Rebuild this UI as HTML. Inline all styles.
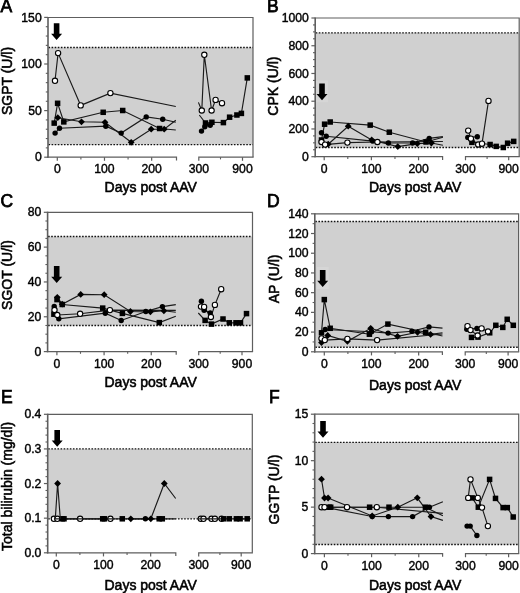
<!DOCTYPE html>
<html><head><meta charset="utf-8"><style>
html,body{margin:0;padding:0;background:#fff;}
svg{display:block;filter:blur(0.35px);}
.t{font-family:"Liberation Sans", sans-serif;font-size:12.2px;fill:#000;stroke:#000;stroke-width:0.4px;}
.ax{font-family:"Liberation Sans", sans-serif;font-size:14px;fill:#000;stroke:#000;stroke-width:0.55px;}
.lt{font-family:"Liberation Sans", sans-serif;font-size:17.5px;fill:#000;stroke:#000;stroke-width:0.75px;}
</style></head><body>
<svg width="520" height="593" viewBox="0 0 520 593">
<rect width="520" height="593" fill="#fff"/>
<rect x="48" y="47.5" width="205" height="97.1" fill="#d0d0d0"/>
<line x1="48.5" y1="47.5" x2="253" y2="47.5" stroke="#111" stroke-width="1.35" stroke-dasharray="1.6 1.49"/>
<line x1="48.5" y1="144.6" x2="253" y2="144.6" stroke="#111" stroke-width="1.35" stroke-dasharray="1.6 1.49"/>
<path d="M48 17.5H253V157.2" fill="none" stroke="#5e5e5e" stroke-width="1.2"/>
<line x1="48" y1="16.9" x2="48" y2="157.8" stroke="#5e5e5e" stroke-width="1.6"/>
<line x1="44.2" y1="157.2" x2="48" y2="157.2" stroke="#5e5e5e" stroke-width="1.2"/>
<text x="41.7" y="161.3" text-anchor="end" class="t">0</text>
<line x1="44.2" y1="110.6" x2="48" y2="110.6" stroke="#5e5e5e" stroke-width="1.2"/>
<text x="41.7" y="114.7" text-anchor="end" class="t">50</text>
<line x1="44.2" y1="64" x2="48" y2="64" stroke="#5e5e5e" stroke-width="1.2"/>
<text x="41.7" y="68.1" text-anchor="end" class="t">100</text>
<line x1="44.2" y1="17.4" x2="48" y2="17.4" stroke="#5e5e5e" stroke-width="1.2"/>
<text x="41.7" y="21.5" text-anchor="end" class="t">150</text>
<line x1="45.8" y1="147.88" x2="48" y2="147.88" stroke="#5e5e5e" stroke-width="1.1"/>
<line x1="45.8" y1="138.56" x2="48" y2="138.56" stroke="#5e5e5e" stroke-width="1.1"/>
<line x1="45.8" y1="129.24" x2="48" y2="129.24" stroke="#5e5e5e" stroke-width="1.1"/>
<line x1="45.8" y1="119.92" x2="48" y2="119.92" stroke="#5e5e5e" stroke-width="1.1"/>
<line x1="45.8" y1="101.28" x2="48" y2="101.28" stroke="#5e5e5e" stroke-width="1.1"/>
<line x1="45.8" y1="91.96" x2="48" y2="91.96" stroke="#5e5e5e" stroke-width="1.1"/>
<line x1="45.8" y1="82.64" x2="48" y2="82.64" stroke="#5e5e5e" stroke-width="1.1"/>
<line x1="45.8" y1="73.32" x2="48" y2="73.32" stroke="#5e5e5e" stroke-width="1.1"/>
<line x1="45.8" y1="54.68" x2="48" y2="54.68" stroke="#5e5e5e" stroke-width="1.1"/>
<line x1="45.8" y1="45.36" x2="48" y2="45.36" stroke="#5e5e5e" stroke-width="1.1"/>
<line x1="45.8" y1="36.04" x2="48" y2="36.04" stroke="#5e5e5e" stroke-width="1.1"/>
<line x1="45.8" y1="26.72" x2="48" y2="26.72" stroke="#5e5e5e" stroke-width="1.1"/>
<path d="M47.2 157.2H176.5V160.4" fill="none" stroke="#5e5e5e" stroke-width="1.2"/>
<path d="M198.8 160.8V157.2H253.6" fill="none" stroke="#5e5e5e" stroke-width="1.2"/>
<line x1="57.3" y1="157.2" x2="57.3" y2="160.8" stroke="#5e5e5e" stroke-width="1.2"/>
<line x1="104.48" y1="157.2" x2="104.48" y2="160.8" stroke="#5e5e5e" stroke-width="1.2"/>
<line x1="151.66" y1="157.2" x2="151.66" y2="160.8" stroke="#5e5e5e" stroke-width="1.2"/>
<line x1="242.5" y1="157.2" x2="242.5" y2="160.8" stroke="#5e5e5e" stroke-width="1.2"/>
<line x1="80.89" y1="157.2" x2="80.89" y2="159.4" stroke="#5e5e5e" stroke-width="1.1"/>
<line x1="128.07" y1="157.2" x2="128.07" y2="159.4" stroke="#5e5e5e" stroke-width="1.1"/>
<line x1="220.5" y1="157.2" x2="220.5" y2="159.4" stroke="#5e5e5e" stroke-width="1.1"/>
<text x="57.3" y="173.2" text-anchor="middle" class="t">0</text>
<text x="104.48" y="173.2" text-anchor="middle" class="t">100</text>
<text x="151.66" y="173.2" text-anchor="middle" class="t">200</text>
<text x="242.5" y="173.2" text-anchor="middle" class="t">900</text>
<text x="198.8" y="173.2" text-anchor="middle" class="t">300</text>
<text x="104.6" y="191.9" class="ax">Days post AAV</text>
<text transform="translate(12.4 81) rotate(-90)" text-anchor="middle" class="ax">SGPT (U/l)</text>
<text x="0.6" y="12.4" class="lt">A</text>
<path d="M53.8 23.2H59.4V33.8H62.1L56.6 40L51.1 33.8H53.8Z" fill="#000"/>
<path d="M55 80.8 L58.1 53.1 L80.7 105.4 L110.4 93.1 L175.8 106.5" fill="none" stroke="#1a1a1a" stroke-width="1.15"/>
<path d="M54.2 123.1 L57.6 103.3 L63.8 121.9 L103.2 112.3 L122.7 110.5 L159.6 128.5 L175.8 130" fill="none" stroke="#1a1a1a" stroke-width="1.15"/>
<path d="M57.8 117.7 L81.5 121.8 L105 122.3 L131.2 142.3 L151.2 129.2 L164.2 129.2 L175.8 120.3" fill="none" stroke="#1a1a1a" stroke-width="1.15"/>
<path d="M55.1 133.1 L59.5 128.2 L105.8 126.2 L121.2 133.1 L146.2 116.9 L162.7 119.2 L175.8 122.3" fill="none" stroke="#1a1a1a" stroke-width="1.15"/>
<path d="M198.4 102.4 L201.8 110.5 L204.3 54.8 L211.6 110.5 L215.6 99.9 L222 103.2" fill="none" stroke="#1a1a1a" stroke-width="1.15"/>
<path d="M199.3 115 L205.5 123 L211.9 122.3 L223.4 122.6 L229.6 117.2 L236.9 115 L241.4 113.4 L247.3 77.9" fill="none" stroke="#1a1a1a" stroke-width="1.15"/>
<path d="M201.5 131.1 L204.8 126.8 L210.2 125.2" fill="none" stroke="#1a1a1a" stroke-width="1.15"/>
<rect x="51.45" y="120.35" width="5.5" height="5.5" fill="#000"/>
<rect x="54.85" y="100.55" width="5.5" height="5.5" fill="#000"/>
<rect x="61.05" y="119.15" width="5.5" height="5.5" fill="#000"/>
<rect x="100.45" y="109.55" width="5.5" height="5.5" fill="#000"/>
<rect x="119.95" y="107.75" width="5.5" height="5.5" fill="#000"/>
<rect x="156.85" y="125.75" width="5.5" height="5.5" fill="#000"/>
<rect x="202.75" y="120.25" width="5.5" height="5.5" fill="#000"/>
<rect x="209.15" y="119.55" width="5.5" height="5.5" fill="#000"/>
<rect x="220.65" y="119.85" width="5.5" height="5.5" fill="#000"/>
<rect x="226.85" y="114.45" width="5.5" height="5.5" fill="#000"/>
<rect x="234.15" y="112.25" width="5.5" height="5.5" fill="#000"/>
<rect x="238.65" y="110.65" width="5.5" height="5.5" fill="#000"/>
<rect x="244.55" y="75.15" width="5.5" height="5.5" fill="#000"/>
<path d="M57.8 114.3L61.2 117.7L57.8 121.1L54.4 117.7Z" fill="#000"/>
<path d="M81.5 118.4L84.9 121.8L81.5 125.2L78.1 121.8Z" fill="#000"/>
<path d="M105 118.9L108.4 122.3L105 125.7L101.6 122.3Z" fill="#000"/>
<path d="M131.2 138.9L134.6 142.3L131.2 145.7L127.8 142.3Z" fill="#000"/>
<path d="M151.2 125.8L154.6 129.2L151.2 132.6L147.8 129.2Z" fill="#000"/>
<path d="M164.2 125.8L167.6 129.2L164.2 132.6L160.8 129.2Z" fill="#000"/>
<circle cx="55.1" cy="133.1" r="2.7" fill="#000"/>
<circle cx="59.5" cy="128.2" r="2.7" fill="#000"/>
<circle cx="105.8" cy="126.2" r="2.7" fill="#000"/>
<circle cx="121.2" cy="133.1" r="2.7" fill="#000"/>
<circle cx="146.2" cy="116.9" r="2.7" fill="#000"/>
<circle cx="162.7" cy="119.2" r="2.7" fill="#000"/>
<circle cx="201.5" cy="131.1" r="2.7" fill="#000"/>
<circle cx="204.8" cy="126.8" r="2.7" fill="#000"/>
<circle cx="210.2" cy="125.2" r="2.7" fill="#000"/>
<circle cx="55" cy="80.8" r="2.65" fill="#fff" stroke="#000" stroke-width="1.1"/>
<circle cx="58.1" cy="53.1" r="2.65" fill="#fff" stroke="#000" stroke-width="1.1"/>
<circle cx="80.7" cy="105.4" r="2.65" fill="#fff" stroke="#000" stroke-width="1.1"/>
<circle cx="110.4" cy="93.1" r="2.65" fill="#fff" stroke="#000" stroke-width="1.1"/>
<circle cx="201.8" cy="110.5" r="2.65" fill="#fff" stroke="#000" stroke-width="1.1"/>
<circle cx="204.3" cy="54.8" r="2.65" fill="#fff" stroke="#000" stroke-width="1.1"/>
<circle cx="211.6" cy="110.5" r="2.65" fill="#fff" stroke="#000" stroke-width="1.1"/>
<circle cx="215.6" cy="99.9" r="2.65" fill="#fff" stroke="#000" stroke-width="1.1"/>
<circle cx="222" cy="103.2" r="2.65" fill="#fff" stroke="#000" stroke-width="1.1"/>
<rect x="315.2" y="32.8" width="204" height="114.7" fill="#d0d0d0"/>
<line x1="315.7" y1="32.8" x2="519.2" y2="32.8" stroke="#111" stroke-width="1.35" stroke-dasharray="1.6 1.49"/>
<line x1="315.7" y1="147.5" x2="519.2" y2="147.5" stroke="#111" stroke-width="1.35" stroke-dasharray="1.6 1.49"/>
<path d="M315.2 18H519.2V156.7" fill="none" stroke="#5e5e5e" stroke-width="1.2"/>
<line x1="315.2" y1="17.4" x2="315.2" y2="157.3" stroke="#5e5e5e" stroke-width="1.6"/>
<line x1="311.4" y1="156.7" x2="315.2" y2="156.7" stroke="#5e5e5e" stroke-width="1.2"/>
<text x="308.9" y="160.8" text-anchor="end" class="t">0</text>
<line x1="311.4" y1="128.96" x2="315.2" y2="128.96" stroke="#5e5e5e" stroke-width="1.2"/>
<text x="308.9" y="133.06" text-anchor="end" class="t">200</text>
<line x1="311.4" y1="101.22" x2="315.2" y2="101.22" stroke="#5e5e5e" stroke-width="1.2"/>
<text x="308.9" y="105.32" text-anchor="end" class="t">400</text>
<line x1="311.4" y1="73.48" x2="315.2" y2="73.48" stroke="#5e5e5e" stroke-width="1.2"/>
<text x="308.9" y="77.58" text-anchor="end" class="t">600</text>
<line x1="311.4" y1="45.74" x2="315.2" y2="45.74" stroke="#5e5e5e" stroke-width="1.2"/>
<text x="308.9" y="49.84" text-anchor="end" class="t">800</text>
<line x1="311.4" y1="18" x2="315.2" y2="18" stroke="#5e5e5e" stroke-width="1.2"/>
<text x="308.9" y="22.1" text-anchor="end" class="t">1000</text>
<line x1="313" y1="149.76" x2="315.2" y2="149.76" stroke="#5e5e5e" stroke-width="1.1"/>
<line x1="313" y1="142.83" x2="315.2" y2="142.83" stroke="#5e5e5e" stroke-width="1.1"/>
<line x1="313" y1="135.89" x2="315.2" y2="135.89" stroke="#5e5e5e" stroke-width="1.1"/>
<line x1="313" y1="122.02" x2="315.2" y2="122.02" stroke="#5e5e5e" stroke-width="1.1"/>
<line x1="313" y1="115.09" x2="315.2" y2="115.09" stroke="#5e5e5e" stroke-width="1.1"/>
<line x1="313" y1="108.15" x2="315.2" y2="108.15" stroke="#5e5e5e" stroke-width="1.1"/>
<line x1="313" y1="94.28" x2="315.2" y2="94.28" stroke="#5e5e5e" stroke-width="1.1"/>
<line x1="313" y1="87.35" x2="315.2" y2="87.35" stroke="#5e5e5e" stroke-width="1.1"/>
<line x1="313" y1="80.41" x2="315.2" y2="80.41" stroke="#5e5e5e" stroke-width="1.1"/>
<line x1="313" y1="66.54" x2="315.2" y2="66.54" stroke="#5e5e5e" stroke-width="1.1"/>
<line x1="313" y1="59.61" x2="315.2" y2="59.61" stroke="#5e5e5e" stroke-width="1.1"/>
<line x1="313" y1="52.67" x2="315.2" y2="52.67" stroke="#5e5e5e" stroke-width="1.1"/>
<line x1="313" y1="38.8" x2="315.2" y2="38.8" stroke="#5e5e5e" stroke-width="1.1"/>
<line x1="313" y1="31.87" x2="315.2" y2="31.87" stroke="#5e5e5e" stroke-width="1.1"/>
<line x1="313" y1="24.93" x2="315.2" y2="24.93" stroke="#5e5e5e" stroke-width="1.1"/>
<path d="M314.4 156.7H442.6V159.9" fill="none" stroke="#5e5e5e" stroke-width="1.2"/>
<path d="M465.5 160.3V156.7H519.8" fill="none" stroke="#5e5e5e" stroke-width="1.2"/>
<line x1="324.2" y1="156.7" x2="324.2" y2="160.3" stroke="#5e5e5e" stroke-width="1.2"/>
<line x1="371.38" y1="156.7" x2="371.38" y2="160.3" stroke="#5e5e5e" stroke-width="1.2"/>
<line x1="418.56" y1="156.7" x2="418.56" y2="160.3" stroke="#5e5e5e" stroke-width="1.2"/>
<line x1="508.7" y1="156.7" x2="508.7" y2="160.3" stroke="#5e5e5e" stroke-width="1.2"/>
<line x1="347.79" y1="156.7" x2="347.79" y2="158.9" stroke="#5e5e5e" stroke-width="1.1"/>
<line x1="394.97" y1="156.7" x2="394.97" y2="158.9" stroke="#5e5e5e" stroke-width="1.1"/>
<line x1="487.1" y1="156.7" x2="487.1" y2="158.9" stroke="#5e5e5e" stroke-width="1.1"/>
<text x="324.2" y="172.7" text-anchor="middle" class="t">0</text>
<text x="371.38" y="172.7" text-anchor="middle" class="t">100</text>
<text x="418.56" y="172.7" text-anchor="middle" class="t">200</text>
<text x="508.7" y="172.7" text-anchor="middle" class="t">900</text>
<text x="465.5" y="172.7" text-anchor="middle" class="t">300</text>
<text x="369" y="191.8" class="ax">Days post AAV</text>
<text transform="translate(278.3 86.1) rotate(-90)" text-anchor="middle" class="ax">CPK (U/l)</text>
<text x="267" y="12.3" class="lt">B</text>
<rect x="316" y="80.5" width="12" height="21.8" fill="#fff" opacity="0.14"/>
<path d="M319.2 83.5H324.8V94.1H327.5L322 100.3L316.5 94.1H319.2Z" fill="#000"/>
<path d="M321.5 140 L324.6 124.2 L330.2 122 L370.2 125.1 L389.3 132.2 L426 142 L442.9 137.2" fill="none" stroke="#1a1a1a" stroke-width="1.15"/>
<path d="M328.2 144.2 L348.2 126.2 L371.7 140 L397.8 146.6 L417.3 143.6 L431.4 143 L442.9 145.3" fill="none" stroke="#1a1a1a" stroke-width="1.15"/>
<path d="M321.5 132.8 L326.2 136.2 L372.8 141.1 L388.4 143 L412.6 143 L429.2 138.4 L442.9 136.6" fill="none" stroke="#1a1a1a" stroke-width="1.15"/>
<path d="M321.5 142 L325.1 144.6 L347.4 142.6 L377.4 142 L442.9 141.5" fill="none" stroke="#1a1a1a" stroke-width="1.15"/>
<path d="M468.2 130.6 L470.9 138.7 L478.2 144.5 L482 143.7 L488.5 100.9" fill="none" stroke="#1a1a1a" stroke-width="1.15"/>
<path d="M467.8 137.4 L477.3 136.7" fill="none" stroke="#1a1a1a" stroke-width="1.15"/>
<path d="M471.9 142.3 L490.1 144.5 L496.2 146.4 L503.3 147.5 L507.6 143.2 L513.7 141.4" fill="none" stroke="#1a1a1a" stroke-width="1.15"/>
<rect x="318.75" y="137.25" width="5.5" height="5.5" fill="#000"/>
<rect x="321.85" y="121.45" width="5.5" height="5.5" fill="#000"/>
<rect x="327.45" y="119.25" width="5.5" height="5.5" fill="#000"/>
<rect x="367.45" y="122.35" width="5.5" height="5.5" fill="#000"/>
<rect x="386.55" y="129.45" width="5.5" height="5.5" fill="#000"/>
<rect x="423.25" y="139.25" width="5.5" height="5.5" fill="#000"/>
<rect x="469.15" y="139.55" width="5.5" height="5.5" fill="#000"/>
<rect x="487.35" y="141.75" width="5.5" height="5.5" fill="#000"/>
<rect x="493.45" y="143.65" width="5.5" height="5.5" fill="#000"/>
<rect x="500.55" y="144.75" width="5.5" height="5.5" fill="#000"/>
<rect x="504.85" y="140.45" width="5.5" height="5.5" fill="#000"/>
<rect x="510.95" y="138.65" width="5.5" height="5.5" fill="#000"/>
<path d="M328.2 140.8L331.6 144.2L328.2 147.6L324.8 144.2Z" fill="#000"/>
<path d="M348.2 122.8L351.6 126.2L348.2 129.6L344.8 126.2Z" fill="#000"/>
<path d="M371.7 136.6L375.1 140L371.7 143.4L368.3 140Z" fill="#000"/>
<path d="M397.8 143.2L401.2 146.6L397.8 150L394.4 146.6Z" fill="#000"/>
<path d="M417.3 140.2L420.7 143.6L417.3 147L413.9 143.6Z" fill="#000"/>
<path d="M431.4 139.6L434.8 143L431.4 146.4L428 143Z" fill="#000"/>
<circle cx="321.5" cy="132.8" r="2.7" fill="#000"/>
<circle cx="326.2" cy="136.2" r="2.7" fill="#000"/>
<circle cx="372.8" cy="141.1" r="2.7" fill="#000"/>
<circle cx="388.4" cy="143" r="2.7" fill="#000"/>
<circle cx="412.6" cy="143" r="2.7" fill="#000"/>
<circle cx="429.2" cy="138.4" r="2.7" fill="#000"/>
<circle cx="467.8" cy="137.4" r="2.7" fill="#000"/>
<circle cx="477.3" cy="136.7" r="2.7" fill="#000"/>
<circle cx="321.5" cy="142" r="2.65" fill="#fff" stroke="#000" stroke-width="1.1"/>
<circle cx="325.1" cy="144.6" r="2.65" fill="#fff" stroke="#000" stroke-width="1.1"/>
<circle cx="347.4" cy="142.6" r="2.65" fill="#fff" stroke="#000" stroke-width="1.1"/>
<circle cx="377.4" cy="142" r="2.65" fill="#fff" stroke="#000" stroke-width="1.1"/>
<circle cx="468.2" cy="130.6" r="2.65" fill="#fff" stroke="#000" stroke-width="1.1"/>
<circle cx="470.9" cy="138.7" r="2.65" fill="#fff" stroke="#000" stroke-width="1.1"/>
<circle cx="478.2" cy="144.5" r="2.65" fill="#fff" stroke="#000" stroke-width="1.1"/>
<circle cx="482" cy="143.7" r="2.65" fill="#fff" stroke="#000" stroke-width="1.1"/>
<circle cx="488.5" cy="100.9" r="2.65" fill="#fff" stroke="#000" stroke-width="1.1"/>
<rect x="47.6" y="236.5" width="204.9" height="89" fill="#d0d0d0"/>
<line x1="48.1" y1="236.5" x2="252.5" y2="236.5" stroke="#111" stroke-width="1.35" stroke-dasharray="1.6 1.49"/>
<line x1="48.1" y1="325.5" x2="252.5" y2="325.5" stroke="#111" stroke-width="1.35" stroke-dasharray="1.6 1.49"/>
<path d="M47.6 212.3H252.5V351.6" fill="none" stroke="#5e5e5e" stroke-width="1.2"/>
<line x1="47.6" y1="211.7" x2="47.6" y2="352.2" stroke="#5e5e5e" stroke-width="1.6"/>
<line x1="43.8" y1="351.6" x2="47.6" y2="351.6" stroke="#5e5e5e" stroke-width="1.2"/>
<text x="41.3" y="355.7" text-anchor="end" class="t">0</text>
<line x1="43.8" y1="316.78" x2="47.6" y2="316.78" stroke="#5e5e5e" stroke-width="1.2"/>
<text x="41.3" y="320.88" text-anchor="end" class="t">20</text>
<line x1="43.8" y1="281.95" x2="47.6" y2="281.95" stroke="#5e5e5e" stroke-width="1.2"/>
<text x="41.3" y="286.05" text-anchor="end" class="t">40</text>
<line x1="43.8" y1="247.12" x2="47.6" y2="247.12" stroke="#5e5e5e" stroke-width="1.2"/>
<text x="41.3" y="251.22" text-anchor="end" class="t">60</text>
<line x1="43.8" y1="212.3" x2="47.6" y2="212.3" stroke="#5e5e5e" stroke-width="1.2"/>
<text x="41.3" y="216.4" text-anchor="end" class="t">80</text>
<line x1="45.4" y1="342.89" x2="47.6" y2="342.89" stroke="#5e5e5e" stroke-width="1.1"/>
<line x1="45.4" y1="334.19" x2="47.6" y2="334.19" stroke="#5e5e5e" stroke-width="1.1"/>
<line x1="45.4" y1="325.48" x2="47.6" y2="325.48" stroke="#5e5e5e" stroke-width="1.1"/>
<line x1="45.4" y1="308.07" x2="47.6" y2="308.07" stroke="#5e5e5e" stroke-width="1.1"/>
<line x1="45.4" y1="299.36" x2="47.6" y2="299.36" stroke="#5e5e5e" stroke-width="1.1"/>
<line x1="45.4" y1="290.66" x2="47.6" y2="290.66" stroke="#5e5e5e" stroke-width="1.1"/>
<line x1="45.4" y1="273.24" x2="47.6" y2="273.24" stroke="#5e5e5e" stroke-width="1.1"/>
<line x1="45.4" y1="264.54" x2="47.6" y2="264.54" stroke="#5e5e5e" stroke-width="1.1"/>
<line x1="45.4" y1="255.83" x2="47.6" y2="255.83" stroke="#5e5e5e" stroke-width="1.1"/>
<line x1="45.4" y1="238.42" x2="47.6" y2="238.42" stroke="#5e5e5e" stroke-width="1.1"/>
<line x1="45.4" y1="229.71" x2="47.6" y2="229.71" stroke="#5e5e5e" stroke-width="1.1"/>
<line x1="45.4" y1="221.01" x2="47.6" y2="221.01" stroke="#5e5e5e" stroke-width="1.1"/>
<path d="M46.8 351.6H176.2V354.8" fill="none" stroke="#5e5e5e" stroke-width="1.2"/>
<path d="M198.7 355.2V351.6H253.1" fill="none" stroke="#5e5e5e" stroke-width="1.2"/>
<line x1="56.9" y1="351.6" x2="56.9" y2="355.2" stroke="#5e5e5e" stroke-width="1.2"/>
<line x1="104.08" y1="351.6" x2="104.08" y2="355.2" stroke="#5e5e5e" stroke-width="1.2"/>
<line x1="151.26" y1="351.6" x2="151.26" y2="355.2" stroke="#5e5e5e" stroke-width="1.2"/>
<line x1="242" y1="351.6" x2="242" y2="355.2" stroke="#5e5e5e" stroke-width="1.2"/>
<line x1="80.49" y1="351.6" x2="80.49" y2="353.8" stroke="#5e5e5e" stroke-width="1.1"/>
<line x1="127.67" y1="351.6" x2="127.67" y2="353.8" stroke="#5e5e5e" stroke-width="1.1"/>
<line x1="220.2" y1="351.6" x2="220.2" y2="353.8" stroke="#5e5e5e" stroke-width="1.1"/>
<text x="56.9" y="367.6" text-anchor="middle" class="t">0</text>
<text x="104.08" y="367.6" text-anchor="middle" class="t">100</text>
<text x="151.26" y="367.6" text-anchor="middle" class="t">200</text>
<text x="242" y="367.6" text-anchor="middle" class="t">900</text>
<text x="198.7" y="367.6" text-anchor="middle" class="t">300</text>
<text x="104.5" y="386.9" class="ax">Days post AAV</text>
<text transform="translate(12.4 275) rotate(-90)" text-anchor="middle" class="ax">SGOT (U/l)</text>
<text x="0.4" y="207" class="lt">C</text>
<path d="M53.9 266.1H59.5V276.7H62.2L56.7 282.9L51.2 276.7H53.9Z" fill="#000"/>
<path d="M57.3 297.3 L62.2 304.2 L80.7 294.4 L104.2 294.7 L130.4 311.5 L150.4 311.8 L163.9 310.8 L175.8 312.3" fill="none" stroke="#1a1a1a" stroke-width="1.15"/>
<path d="M57 299.6 L62.2 304.5 L102.7 308.1 L122.4 313.4 L159.3 322.6 L175.8 316.2" fill="none" stroke="#1a1a1a" stroke-width="1.15"/>
<path d="M54.2 306.5 L58.8 318.8 L105.3 313.2 L121.2 320.5 L145.8 311.5 L162.4 306.6 L175.8 304.6" fill="none" stroke="#1a1a1a" stroke-width="1.15"/>
<path d="M54.5 310 L57.3 315 L80.1 313.8 L109.9 310.1 L175.8 310.3" fill="none" stroke="#1a1a1a" stroke-width="1.15"/>
<path d="M201.4 301.3 L204.1 310.3 L210.2 313" fill="none" stroke="#1a1a1a" stroke-width="1.15"/>
<path d="M201 306.6 L204.1 306.9 L210.9 317 L214.9 304.9 L221.2 289.2" fill="none" stroke="#1a1a1a" stroke-width="1.15"/>
<path d="M198.3 313 L205.1 320.4 L211.5 324.1 L223 319 L229.3 322.8 L236 322.8 L240.5 322.8 L246.5 313.6" fill="none" stroke="#1a1a1a" stroke-width="1.15"/>
<rect x="54.25" y="296.85" width="5.5" height="5.5" fill="#000"/>
<rect x="59.45" y="301.75" width="5.5" height="5.5" fill="#000"/>
<rect x="99.95" y="305.35" width="5.5" height="5.5" fill="#000"/>
<rect x="119.65" y="310.65" width="5.5" height="5.5" fill="#000"/>
<rect x="156.55" y="319.85" width="5.5" height="5.5" fill="#000"/>
<rect x="51.15" y="311.45" width="5.5" height="5.5" fill="#000"/>
<rect x="202.35" y="317.65" width="5.5" height="5.5" fill="#000"/>
<rect x="208.75" y="321.35" width="5.5" height="5.5" fill="#000"/>
<rect x="220.25" y="316.25" width="5.5" height="5.5" fill="#000"/>
<rect x="226.55" y="320.05" width="5.5" height="5.5" fill="#000"/>
<rect x="233.25" y="320.05" width="5.5" height="5.5" fill="#000"/>
<rect x="237.75" y="320.05" width="5.5" height="5.5" fill="#000"/>
<rect x="243.75" y="310.85" width="5.5" height="5.5" fill="#000"/>
<path d="M57.3 293.9L60.7 297.3L57.3 300.7L53.9 297.3Z" fill="#000"/>
<path d="M62.2 300.8L65.6 304.2L62.2 307.6L58.8 304.2Z" fill="#000"/>
<path d="M80.7 291L84.1 294.4L80.7 297.8L77.3 294.4Z" fill="#000"/>
<path d="M104.2 291.3L107.6 294.7L104.2 298.1L100.8 294.7Z" fill="#000"/>
<path d="M130.4 308.1L133.8 311.5L130.4 314.9L127 311.5Z" fill="#000"/>
<path d="M150.4 308.4L153.8 311.8L150.4 315.2L147 311.8Z" fill="#000"/>
<path d="M163.9 307.4L167.3 310.8L163.9 314.2L160.5 310.8Z" fill="#000"/>
<circle cx="54.2" cy="306.5" r="2.7" fill="#000"/>
<circle cx="58.8" cy="318.8" r="2.7" fill="#000"/>
<circle cx="105.3" cy="313.2" r="2.7" fill="#000"/>
<circle cx="121.2" cy="320.5" r="2.7" fill="#000"/>
<circle cx="145.8" cy="311.5" r="2.7" fill="#000"/>
<circle cx="162.4" cy="306.6" r="2.7" fill="#000"/>
<circle cx="201.4" cy="301.3" r="2.7" fill="#000"/>
<circle cx="204.1" cy="310.3" r="2.7" fill="#000"/>
<circle cx="210.2" cy="313" r="2.7" fill="#000"/>
<circle cx="54.5" cy="310" r="2.65" fill="#fff" stroke="#000" stroke-width="1.1"/>
<circle cx="57.3" cy="315" r="2.65" fill="#fff" stroke="#000" stroke-width="1.1"/>
<circle cx="80.1" cy="313.8" r="2.65" fill="#fff" stroke="#000" stroke-width="1.1"/>
<circle cx="109.9" cy="310.1" r="2.65" fill="#fff" stroke="#000" stroke-width="1.1"/>
<circle cx="201" cy="306.6" r="2.65" fill="#fff" stroke="#000" stroke-width="1.1"/>
<circle cx="204.1" cy="306.9" r="2.65" fill="#fff" stroke="#000" stroke-width="1.1"/>
<circle cx="210.9" cy="317" r="2.65" fill="#fff" stroke="#000" stroke-width="1.1"/>
<circle cx="214.9" cy="304.9" r="2.65" fill="#fff" stroke="#000" stroke-width="1.1"/>
<circle cx="221.2" cy="289.2" r="2.65" fill="#fff" stroke="#000" stroke-width="1.1"/>
<rect x="314.8" y="221.5" width="203.8" height="125.7" fill="#d0d0d0"/>
<line x1="315.3" y1="221.5" x2="518.6" y2="221.5" stroke="#111" stroke-width="1.35" stroke-dasharray="1.6 1.49"/>
<line x1="315.3" y1="347.2" x2="518.6" y2="347.2" stroke="#111" stroke-width="1.35" stroke-dasharray="1.6 1.49"/>
<path d="M314.8 213.8H518.6V351.8" fill="none" stroke="#5e5e5e" stroke-width="1.2"/>
<line x1="314.8" y1="213.2" x2="314.8" y2="352.4" stroke="#5e5e5e" stroke-width="1.6"/>
<line x1="311" y1="351.8" x2="314.8" y2="351.8" stroke="#5e5e5e" stroke-width="1.2"/>
<text x="308.5" y="355.9" text-anchor="end" class="t">0</text>
<line x1="311" y1="332.09" x2="314.8" y2="332.09" stroke="#5e5e5e" stroke-width="1.2"/>
<text x="308.5" y="336.19" text-anchor="end" class="t">20</text>
<line x1="311" y1="312.37" x2="314.8" y2="312.37" stroke="#5e5e5e" stroke-width="1.2"/>
<text x="308.5" y="316.47" text-anchor="end" class="t">40</text>
<line x1="311" y1="292.66" x2="314.8" y2="292.66" stroke="#5e5e5e" stroke-width="1.2"/>
<text x="308.5" y="296.76" text-anchor="end" class="t">60</text>
<line x1="311" y1="272.94" x2="314.8" y2="272.94" stroke="#5e5e5e" stroke-width="1.2"/>
<text x="308.5" y="277.04" text-anchor="end" class="t">80</text>
<line x1="311" y1="253.23" x2="314.8" y2="253.23" stroke="#5e5e5e" stroke-width="1.2"/>
<text x="308.5" y="257.33" text-anchor="end" class="t">100</text>
<line x1="311" y1="233.51" x2="314.8" y2="233.51" stroke="#5e5e5e" stroke-width="1.2"/>
<text x="308.5" y="237.61" text-anchor="end" class="t">120</text>
<line x1="311" y1="213.8" x2="314.8" y2="213.8" stroke="#5e5e5e" stroke-width="1.2"/>
<text x="308.5" y="217.9" text-anchor="end" class="t">140</text>
<line x1="312.6" y1="341.94" x2="314.8" y2="341.94" stroke="#5e5e5e" stroke-width="1.1"/>
<line x1="312.6" y1="322.23" x2="314.8" y2="322.23" stroke="#5e5e5e" stroke-width="1.1"/>
<line x1="312.6" y1="302.51" x2="314.8" y2="302.51" stroke="#5e5e5e" stroke-width="1.1"/>
<line x1="312.6" y1="282.8" x2="314.8" y2="282.8" stroke="#5e5e5e" stroke-width="1.1"/>
<line x1="312.6" y1="263.09" x2="314.8" y2="263.09" stroke="#5e5e5e" stroke-width="1.1"/>
<line x1="312.6" y1="243.37" x2="314.8" y2="243.37" stroke="#5e5e5e" stroke-width="1.1"/>
<line x1="312.6" y1="223.66" x2="314.8" y2="223.66" stroke="#5e5e5e" stroke-width="1.1"/>
<path d="M314 351.8H442.4V355" fill="none" stroke="#5e5e5e" stroke-width="1.2"/>
<path d="M465.2 355.4V351.8H519.2" fill="none" stroke="#5e5e5e" stroke-width="1.2"/>
<line x1="324.3" y1="351.8" x2="324.3" y2="355.4" stroke="#5e5e5e" stroke-width="1.2"/>
<line x1="371.48" y1="351.8" x2="371.48" y2="355.4" stroke="#5e5e5e" stroke-width="1.2"/>
<line x1="418.66" y1="351.8" x2="418.66" y2="355.4" stroke="#5e5e5e" stroke-width="1.2"/>
<line x1="508.1" y1="351.8" x2="508.1" y2="355.4" stroke="#5e5e5e" stroke-width="1.2"/>
<line x1="347.89" y1="351.8" x2="347.89" y2="354" stroke="#5e5e5e" stroke-width="1.1"/>
<line x1="395.07" y1="351.8" x2="395.07" y2="354" stroke="#5e5e5e" stroke-width="1.1"/>
<line x1="486.3" y1="351.8" x2="486.3" y2="354" stroke="#5e5e5e" stroke-width="1.1"/>
<text x="324.3" y="367.8" text-anchor="middle" class="t">0</text>
<text x="371.48" y="367.8" text-anchor="middle" class="t">100</text>
<text x="418.66" y="367.8" text-anchor="middle" class="t">200</text>
<text x="508.1" y="367.8" text-anchor="middle" class="t">900</text>
<text x="465.2" y="367.8" text-anchor="middle" class="t">300</text>
<text x="369" y="389.5" class="ax">Days post AAV</text>
<text transform="translate(279 278.9) rotate(-90)" text-anchor="middle" class="ax">AP (U/l)</text>
<text x="267" y="207.2" class="lt">D</text>
<rect x="316.7" y="267.1" width="12" height="21.8" fill="#fff" opacity="0.14"/>
<path d="M319.9 270.1H325.5V280.7H328.2L322.7 286.9L317.2 280.7H319.9Z" fill="#000"/>
<path d="M321.5 332.8 L324.3 299.6 L330.2 328.3 L369.4 334.2 L387.9 324.1 L425.6 332.3 L442.5 336" fill="none" stroke="#1a1a1a" stroke-width="1.15"/>
<path d="M325.2 329.5 L371.6 331.7 L388.1 333.1 L411.9 331.3 L429 326.9 L442.5 328.1" fill="none" stroke="#1a1a1a" stroke-width="1.15"/>
<path d="M321.5 342.6 L327.7 335.5 L347.4 341.3 L370.7 328.3 L397.5 336.3 L417.5 332.3 L430.6 334.4 L442.5 332.8" fill="none" stroke="#1a1a1a" stroke-width="1.15"/>
<path d="M321.5 338.4 L324.8 340.1 L347.4 338.9 L377.1 340.1 L442.5 334" fill="none" stroke="#1a1a1a" stroke-width="1.15"/>
<path d="M467.5 326.1 L470.5 330.1 L477.6 335.5 L481.6 328.4 L488 331.5" fill="none" stroke="#1a1a1a" stroke-width="1.15"/>
<path d="M466.8 329.3 L476.9 328.4" fill="none" stroke="#1a1a1a" stroke-width="1.15"/>
<path d="M471.5 337.4 L478 337.1 L489.7 332.8 L495.8 325.3 L502.8 327.4 L507.2 319.3 L513.3 325.3" fill="none" stroke="#1a1a1a" stroke-width="1.15"/>
<rect x="318.75" y="330.05" width="5.5" height="5.5" fill="#000"/>
<rect x="321.55" y="296.85" width="5.5" height="5.5" fill="#000"/>
<rect x="327.45" y="325.55" width="5.5" height="5.5" fill="#000"/>
<rect x="366.65" y="331.45" width="5.5" height="5.5" fill="#000"/>
<rect x="385.15" y="321.35" width="5.5" height="5.5" fill="#000"/>
<rect x="422.85" y="329.55" width="5.5" height="5.5" fill="#000"/>
<rect x="468.75" y="334.65" width="5.5" height="5.5" fill="#000"/>
<rect x="475.25" y="334.35" width="5.5" height="5.5" fill="#000"/>
<rect x="486.95" y="330.05" width="5.5" height="5.5" fill="#000"/>
<rect x="493.05" y="322.55" width="5.5" height="5.5" fill="#000"/>
<rect x="500.05" y="324.65" width="5.5" height="5.5" fill="#000"/>
<rect x="504.45" y="316.55" width="5.5" height="5.5" fill="#000"/>
<rect x="510.55" y="322.55" width="5.5" height="5.5" fill="#000"/>
<path d="M321.5 339.2L324.9 342.6L321.5 346L318.1 342.6Z" fill="#000"/>
<path d="M327.7 332.1L331.1 335.5L327.7 338.9L324.3 335.5Z" fill="#000"/>
<path d="M347.4 337.9L350.8 341.3L347.4 344.7L344 341.3Z" fill="#000"/>
<path d="M370.7 324.9L374.1 328.3L370.7 331.7L367.3 328.3Z" fill="#000"/>
<path d="M397.5 332.9L400.9 336.3L397.5 339.7L394.1 336.3Z" fill="#000"/>
<path d="M417.5 328.9L420.9 332.3L417.5 335.7L414.1 332.3Z" fill="#000"/>
<path d="M430.6 331L434 334.4L430.6 337.8L427.2 334.4Z" fill="#000"/>
<circle cx="325.2" cy="329.5" r="2.7" fill="#000"/>
<circle cx="371.6" cy="331.7" r="2.7" fill="#000"/>
<circle cx="388.1" cy="333.1" r="2.7" fill="#000"/>
<circle cx="411.9" cy="331.3" r="2.7" fill="#000"/>
<circle cx="429" cy="326.9" r="2.7" fill="#000"/>
<circle cx="466.8" cy="329.3" r="2.7" fill="#000"/>
<circle cx="476.9" cy="328.4" r="2.7" fill="#000"/>
<circle cx="321.5" cy="338.4" r="2.65" fill="#fff" stroke="#000" stroke-width="1.1"/>
<circle cx="324.8" cy="340.1" r="2.65" fill="#fff" stroke="#000" stroke-width="1.1"/>
<circle cx="347.4" cy="338.9" r="2.65" fill="#fff" stroke="#000" stroke-width="1.1"/>
<circle cx="377.1" cy="340.1" r="2.65" fill="#fff" stroke="#000" stroke-width="1.1"/>
<circle cx="467.5" cy="326.1" r="2.65" fill="#fff" stroke="#000" stroke-width="1.1"/>
<circle cx="470.5" cy="330.1" r="2.65" fill="#fff" stroke="#000" stroke-width="1.1"/>
<circle cx="477.6" cy="335.5" r="2.65" fill="#fff" stroke="#000" stroke-width="1.1"/>
<circle cx="481.6" cy="328.4" r="2.65" fill="#fff" stroke="#000" stroke-width="1.1"/>
<circle cx="488" cy="331.5" r="2.65" fill="#fff" stroke="#000" stroke-width="1.1"/>
<rect x="47.7" y="448.9" width="204.6" height="69.9" fill="#d0d0d0"/>
<line x1="48.2" y1="448.9" x2="252.3" y2="448.9" stroke="#111" stroke-width="1.35" stroke-dasharray="1.6 1.49"/>
<line x1="48.2" y1="518.8" x2="252.3" y2="518.8" stroke="#111" stroke-width="1.35" stroke-dasharray="1.6 1.49"/>
<path d="M47.7 414.3H252.3V552.8" fill="none" stroke="#5e5e5e" stroke-width="1.2"/>
<line x1="47.7" y1="413.7" x2="47.7" y2="553.4" stroke="#5e5e5e" stroke-width="1.6"/>
<line x1="43.9" y1="552.8" x2="47.7" y2="552.8" stroke="#5e5e5e" stroke-width="1.2"/>
<text x="41.4" y="556.9" text-anchor="end" class="t">0.0</text>
<line x1="43.9" y1="518.17" x2="47.7" y2="518.17" stroke="#5e5e5e" stroke-width="1.2"/>
<text x="41.4" y="522.27" text-anchor="end" class="t">0.1</text>
<line x1="43.9" y1="483.55" x2="47.7" y2="483.55" stroke="#5e5e5e" stroke-width="1.2"/>
<text x="41.4" y="487.65" text-anchor="end" class="t">0.2</text>
<line x1="43.9" y1="448.93" x2="47.7" y2="448.93" stroke="#5e5e5e" stroke-width="1.2"/>
<text x="41.4" y="453.03" text-anchor="end" class="t">0.3</text>
<line x1="43.9" y1="414.3" x2="47.7" y2="414.3" stroke="#5e5e5e" stroke-width="1.2"/>
<text x="41.4" y="418.4" text-anchor="end" class="t">0.4</text>
<line x1="45.5" y1="545.88" x2="47.7" y2="545.88" stroke="#5e5e5e" stroke-width="1.1"/>
<line x1="45.5" y1="538.95" x2="47.7" y2="538.95" stroke="#5e5e5e" stroke-width="1.1"/>
<line x1="45.5" y1="532.02" x2="47.7" y2="532.02" stroke="#5e5e5e" stroke-width="1.1"/>
<line x1="45.5" y1="525.1" x2="47.7" y2="525.1" stroke="#5e5e5e" stroke-width="1.1"/>
<line x1="45.5" y1="511.25" x2="47.7" y2="511.25" stroke="#5e5e5e" stroke-width="1.1"/>
<line x1="45.5" y1="504.32" x2="47.7" y2="504.32" stroke="#5e5e5e" stroke-width="1.1"/>
<line x1="45.5" y1="497.4" x2="47.7" y2="497.4" stroke="#5e5e5e" stroke-width="1.1"/>
<line x1="45.5" y1="490.47" x2="47.7" y2="490.47" stroke="#5e5e5e" stroke-width="1.1"/>
<line x1="45.5" y1="476.62" x2="47.7" y2="476.62" stroke="#5e5e5e" stroke-width="1.1"/>
<line x1="45.5" y1="469.7" x2="47.7" y2="469.7" stroke="#5e5e5e" stroke-width="1.1"/>
<line x1="45.5" y1="462.77" x2="47.7" y2="462.77" stroke="#5e5e5e" stroke-width="1.1"/>
<line x1="45.5" y1="455.85" x2="47.7" y2="455.85" stroke="#5e5e5e" stroke-width="1.1"/>
<line x1="45.5" y1="442" x2="47.7" y2="442" stroke="#5e5e5e" stroke-width="1.1"/>
<line x1="45.5" y1="435.08" x2="47.7" y2="435.08" stroke="#5e5e5e" stroke-width="1.1"/>
<line x1="45.5" y1="428.15" x2="47.7" y2="428.15" stroke="#5e5e5e" stroke-width="1.1"/>
<line x1="45.5" y1="421.23" x2="47.7" y2="421.23" stroke="#5e5e5e" stroke-width="1.1"/>
<path d="M46.9 552.8H175.8V556" fill="none" stroke="#5e5e5e" stroke-width="1.2"/>
<path d="M198.7 556.4V552.8H252.9" fill="none" stroke="#5e5e5e" stroke-width="1.2"/>
<line x1="56.3" y1="552.8" x2="56.3" y2="556.4" stroke="#5e5e5e" stroke-width="1.2"/>
<line x1="103.48" y1="552.8" x2="103.48" y2="556.4" stroke="#5e5e5e" stroke-width="1.2"/>
<line x1="150.66" y1="552.8" x2="150.66" y2="556.4" stroke="#5e5e5e" stroke-width="1.2"/>
<line x1="241.2" y1="552.8" x2="241.2" y2="556.4" stroke="#5e5e5e" stroke-width="1.2"/>
<line x1="79.89" y1="552.8" x2="79.89" y2="555" stroke="#5e5e5e" stroke-width="1.1"/>
<line x1="127.07" y1="552.8" x2="127.07" y2="555" stroke="#5e5e5e" stroke-width="1.1"/>
<line x1="219.9" y1="552.8" x2="219.9" y2="555" stroke="#5e5e5e" stroke-width="1.1"/>
<text x="56.3" y="568.8" text-anchor="middle" class="t">0</text>
<text x="103.48" y="568.8" text-anchor="middle" class="t">100</text>
<text x="150.66" y="568.8" text-anchor="middle" class="t">200</text>
<text x="241.2" y="568.8" text-anchor="middle" class="t">900</text>
<text x="198.7" y="568.8" text-anchor="middle" class="t">300</text>
<text x="104.5" y="589.5" class="ax">Days post AAV</text>
<text transform="translate(12 486.4) rotate(-90)" text-anchor="middle" class="ax">Total bilirubin (mg/dl)</text>
<text x="1" y="402.9" class="lt">E</text>
<path d="M54.4 429.9H60V440.5H62.7L57.2 446.7L51.7 440.5H54.4Z" fill="#000"/>
<path d="M53.9 518.8 L57.3 518.8 L80.1 518.8 L110.4 518.8" fill="none" stroke="#1a1a1a" stroke-width="1.15"/>
<circle cx="53.9" cy="518.8" r="2.65" fill="#fff" stroke="#000" stroke-width="1.1"/>
<circle cx="57.3" cy="518.8" r="2.65" fill="#fff" stroke="#000" stroke-width="1.1"/>
<circle cx="80.1" cy="518.8" r="2.65" fill="#fff" stroke="#000" stroke-width="1.1"/>
<circle cx="110.4" cy="518.8" r="2.65" fill="#fff" stroke="#000" stroke-width="1.1"/>
<path d="M200.8 518.8 L203.5 518.8 L211.5 518.8 L214.9 518.8 L221.6 518.8" fill="none" stroke="#1a1a1a" stroke-width="1.15"/>
<circle cx="200.8" cy="518.8" r="2.65" fill="#fff" stroke="#000" stroke-width="1.1"/>
<circle cx="203.5" cy="518.8" r="2.65" fill="#fff" stroke="#000" stroke-width="1.1"/>
<circle cx="211.5" cy="518.8" r="2.65" fill="#fff" stroke="#000" stroke-width="1.1"/>
<circle cx="214.9" cy="518.8" r="2.65" fill="#fff" stroke="#000" stroke-width="1.1"/>
<circle cx="221.6" cy="518.8" r="2.65" fill="#fff" stroke="#000" stroke-width="1.1"/>
<path d="M54 518.8 L62.2 518.8 L64 518.8 L102.7 518.8 L104.4 518.8 L122.3 518.8 L159.2 518.8 L162.3 518.8 L175.4 518.8" fill="none" stroke="#1a1a1a" stroke-width="1.15"/>
<rect x="59.45" y="516.05" width="5.5" height="5.5" fill="#000"/>
<rect x="61.25" y="516.05" width="5.5" height="5.5" fill="#000"/>
<rect x="99.95" y="516.05" width="5.5" height="5.5" fill="#000"/>
<rect x="101.65" y="516.05" width="5.5" height="5.5" fill="#000"/>
<rect x="119.55" y="516.05" width="5.5" height="5.5" fill="#000"/>
<rect x="156.45" y="516.05" width="5.5" height="5.5" fill="#000"/>
<rect x="159.55" y="516.05" width="5.5" height="5.5" fill="#000"/>
<path d="M198.7 518.8 L223.6 518.8 L229.3 518.8 L236.4 518.8 L240.1 518.8 L247.2 518.8 L250 518.8" fill="none" stroke="#1a1a1a" stroke-width="1.15"/>
<rect x="220.85" y="516.05" width="5.5" height="5.5" fill="#000"/>
<rect x="226.55" y="516.05" width="5.5" height="5.5" fill="#000"/>
<rect x="233.65" y="516.05" width="5.5" height="5.5" fill="#000"/>
<rect x="237.35" y="516.05" width="5.5" height="5.5" fill="#000"/>
<rect x="244.45" y="516.05" width="5.5" height="5.5" fill="#000"/>
<path d="M55.3 518.8 L57.6 483.5 L60.3 518.8" fill="none" stroke="#1a1a1a" stroke-width="1.15"/>
<path d="M57.6 480.1L61 483.5L57.6 486.9L54.2 483.5Z" fill="#000"/>
<path d="M130.8 518.8 L150.8 518.8 L164.3 483.5 L175.7 498.5" fill="none" stroke="#1a1a1a" stroke-width="1.15"/>
<path d="M130.8 515.4L134.2 518.8L130.8 522.2L127.4 518.8Z" fill="#000"/>
<path d="M150.8 515.4L154.2 518.8L150.8 522.2L147.4 518.8Z" fill="#000"/>
<path d="M164.3 480.1L167.7 483.5L164.3 486.9L160.9 483.5Z" fill="#000"/>
<circle cx="145.4" cy="518.8" r="2.7" fill="#000"/>
<rect x="314.7" y="442.3" width="204" height="102.2" fill="#d0d0d0"/>
<line x1="315.2" y1="442.3" x2="518.7" y2="442.3" stroke="#111" stroke-width="1.35" stroke-dasharray="1.6 1.49"/>
<line x1="315.2" y1="544.5" x2="518.7" y2="544.5" stroke="#111" stroke-width="1.35" stroke-dasharray="1.6 1.49"/>
<path d="M314.7 414.2H518.7V553.6" fill="none" stroke="#5e5e5e" stroke-width="1.2"/>
<line x1="314.7" y1="413.6" x2="314.7" y2="554.2" stroke="#5e5e5e" stroke-width="1.6"/>
<line x1="310.9" y1="553.6" x2="314.7" y2="553.6" stroke="#5e5e5e" stroke-width="1.2"/>
<text x="308.4" y="557.7" text-anchor="end" class="t">0</text>
<line x1="310.9" y1="507.13" x2="314.7" y2="507.13" stroke="#5e5e5e" stroke-width="1.2"/>
<text x="308.4" y="511.23" text-anchor="end" class="t">5</text>
<line x1="310.9" y1="460.67" x2="314.7" y2="460.67" stroke="#5e5e5e" stroke-width="1.2"/>
<text x="308.4" y="464.77" text-anchor="end" class="t">10</text>
<line x1="310.9" y1="414.2" x2="314.7" y2="414.2" stroke="#5e5e5e" stroke-width="1.2"/>
<text x="308.4" y="418.3" text-anchor="end" class="t">15</text>
<line x1="312.5" y1="544.31" x2="314.7" y2="544.31" stroke="#5e5e5e" stroke-width="1.1"/>
<line x1="312.5" y1="535.01" x2="314.7" y2="535.01" stroke="#5e5e5e" stroke-width="1.1"/>
<line x1="312.5" y1="525.72" x2="314.7" y2="525.72" stroke="#5e5e5e" stroke-width="1.1"/>
<line x1="312.5" y1="516.43" x2="314.7" y2="516.43" stroke="#5e5e5e" stroke-width="1.1"/>
<line x1="312.5" y1="497.84" x2="314.7" y2="497.84" stroke="#5e5e5e" stroke-width="1.1"/>
<line x1="312.5" y1="488.55" x2="314.7" y2="488.55" stroke="#5e5e5e" stroke-width="1.1"/>
<line x1="312.5" y1="479.25" x2="314.7" y2="479.25" stroke="#5e5e5e" stroke-width="1.1"/>
<line x1="312.5" y1="469.96" x2="314.7" y2="469.96" stroke="#5e5e5e" stroke-width="1.1"/>
<line x1="312.5" y1="451.37" x2="314.7" y2="451.37" stroke="#5e5e5e" stroke-width="1.1"/>
<line x1="312.5" y1="442.08" x2="314.7" y2="442.08" stroke="#5e5e5e" stroke-width="1.1"/>
<line x1="312.5" y1="432.79" x2="314.7" y2="432.79" stroke="#5e5e5e" stroke-width="1.1"/>
<line x1="312.5" y1="423.49" x2="314.7" y2="423.49" stroke="#5e5e5e" stroke-width="1.1"/>
<path d="M313.9 553.6H442.6V556.8" fill="none" stroke="#5e5e5e" stroke-width="1.2"/>
<path d="M465.5 557.2V553.6H519.3" fill="none" stroke="#5e5e5e" stroke-width="1.2"/>
<line x1="324.4" y1="553.6" x2="324.4" y2="557.2" stroke="#5e5e5e" stroke-width="1.2"/>
<line x1="371.58" y1="553.6" x2="371.58" y2="557.2" stroke="#5e5e5e" stroke-width="1.2"/>
<line x1="418.76" y1="553.6" x2="418.76" y2="557.2" stroke="#5e5e5e" stroke-width="1.2"/>
<line x1="508.6" y1="553.6" x2="508.6" y2="557.2" stroke="#5e5e5e" stroke-width="1.2"/>
<line x1="347.99" y1="553.6" x2="347.99" y2="555.8" stroke="#5e5e5e" stroke-width="1.1"/>
<line x1="395.17" y1="553.6" x2="395.17" y2="555.8" stroke="#5e5e5e" stroke-width="1.1"/>
<line x1="486.2" y1="553.6" x2="486.2" y2="555.8" stroke="#5e5e5e" stroke-width="1.1"/>
<text x="324.4" y="569.6" text-anchor="middle" class="t">0</text>
<text x="371.58" y="569.6" text-anchor="middle" class="t">100</text>
<text x="418.76" y="569.6" text-anchor="middle" class="t">200</text>
<text x="508.6" y="569.6" text-anchor="middle" class="t">900</text>
<text x="465.5" y="569.6" text-anchor="middle" class="t">300</text>
<text x="369" y="589.6" class="ax">Days post AAV</text>
<text transform="translate(279 489.5) rotate(-90)" text-anchor="middle" class="ax">GGTP (U/l)</text>
<text x="269" y="402.8" class="lt">F</text>
<path d="M320.2 420.9H325.8V431.5H328.5L323 437.7L317.5 431.5H320.2Z" fill="#000"/>
<path d="M321.5 479.2 L324.5 498 L328.1 498 L372.2 516 L397.8 507.2 L417.3 497.8 L431 516.6 L442.9 520.4" fill="none" stroke="#1a1a1a" stroke-width="1.15"/>
<path d="M321.5 507.2 L324.5 507.2 L347 507.2 L376.8 507.2 L442.9 513.4" fill="none" stroke="#1a1a1a" stroke-width="1.15"/>
<path d="M324.5 507.2 L329.2 507.2 L330.7 507.2 L369.6 507.2 L389 507.2 L425.4 507.2 L442.9 515.7" fill="none" stroke="#1a1a1a" stroke-width="1.15"/>
<path d="M327 507.6 L372.2 516.5 L388.4 516.6 L412.6 516.6 L429.4 507.2 L442.9 501.8" fill="none" stroke="#1a1a1a" stroke-width="1.15"/>
<path d="M468.2 497.9 L470.5 479.4 L477.8 497.9 L482 507.6 L487.9 526.1" fill="none" stroke="#1a1a1a" stroke-width="1.15"/>
<path d="M472.2 497.9 L478.3 507.2 L489.6 479.4 L495.5 498.4 L503.1 507.6 L507.3 507.6 L513.2 517" fill="none" stroke="#1a1a1a" stroke-width="1.15"/>
<path d="M467.1 526.1 L470.2 526.1 L476.9 535.5" fill="none" stroke="#1a1a1a" stroke-width="1.15"/>
<rect x="326.45" y="504.45" width="5.5" height="5.5" fill="#000"/>
<rect x="327.95" y="504.45" width="5.5" height="5.5" fill="#000"/>
<rect x="366.85" y="504.45" width="5.5" height="5.5" fill="#000"/>
<rect x="386.25" y="504.45" width="5.5" height="5.5" fill="#000"/>
<rect x="422.65" y="504.45" width="5.5" height="5.5" fill="#000"/>
<rect x="469.45" y="495.15" width="5.5" height="5.5" fill="#000"/>
<rect x="475.55" y="504.45" width="5.5" height="5.5" fill="#000"/>
<rect x="486.85" y="476.65" width="5.5" height="5.5" fill="#000"/>
<rect x="492.75" y="495.65" width="5.5" height="5.5" fill="#000"/>
<rect x="500.35" y="504.85" width="5.5" height="5.5" fill="#000"/>
<rect x="504.55" y="504.85" width="5.5" height="5.5" fill="#000"/>
<rect x="510.45" y="514.25" width="5.5" height="5.5" fill="#000"/>
<path d="M321.5 475.8L324.9 479.2L321.5 482.6L318.1 479.2Z" fill="#000"/>
<path d="M324.5 494.6L327.9 498L324.5 501.4L321.1 498Z" fill="#000"/>
<path d="M328.1 494.6L331.5 498L328.1 501.4L324.7 498Z" fill="#000"/>
<path d="M372.2 512.6L375.6 516L372.2 519.4L368.8 516Z" fill="#000"/>
<path d="M397.8 503.8L401.2 507.2L397.8 510.6L394.4 507.2Z" fill="#000"/>
<path d="M417.3 494.4L420.7 497.8L417.3 501.2L413.9 497.8Z" fill="#000"/>
<path d="M431 513.2L434.4 516.6L431 520L427.6 516.6Z" fill="#000"/>
<circle cx="372.2" cy="516.5" r="2.7" fill="#000"/>
<circle cx="388.4" cy="516.6" r="2.7" fill="#000"/>
<circle cx="412.6" cy="516.6" r="2.7" fill="#000"/>
<circle cx="429.4" cy="507.2" r="2.7" fill="#000"/>
<circle cx="467.1" cy="526.1" r="2.7" fill="#000"/>
<circle cx="470.2" cy="526.1" r="2.7" fill="#000"/>
<circle cx="476.9" cy="535.5" r="2.7" fill="#000"/>
<circle cx="321.5" cy="507.2" r="2.65" fill="#fff" stroke="#000" stroke-width="1.1"/>
<circle cx="324.5" cy="507.2" r="2.65" fill="#fff" stroke="#000" stroke-width="1.1"/>
<circle cx="347" cy="507.2" r="2.65" fill="#fff" stroke="#000" stroke-width="1.1"/>
<circle cx="376.8" cy="507.2" r="2.65" fill="#fff" stroke="#000" stroke-width="1.1"/>
<circle cx="468.2" cy="497.9" r="2.65" fill="#fff" stroke="#000" stroke-width="1.1"/>
<circle cx="470.5" cy="479.4" r="2.65" fill="#fff" stroke="#000" stroke-width="1.1"/>
<circle cx="477.8" cy="497.9" r="2.65" fill="#fff" stroke="#000" stroke-width="1.1"/>
<circle cx="482" cy="507.6" r="2.65" fill="#fff" stroke="#000" stroke-width="1.1"/>
<circle cx="487.9" cy="526.1" r="2.65" fill="#fff" stroke="#000" stroke-width="1.1"/>
</svg>
</body></html>
